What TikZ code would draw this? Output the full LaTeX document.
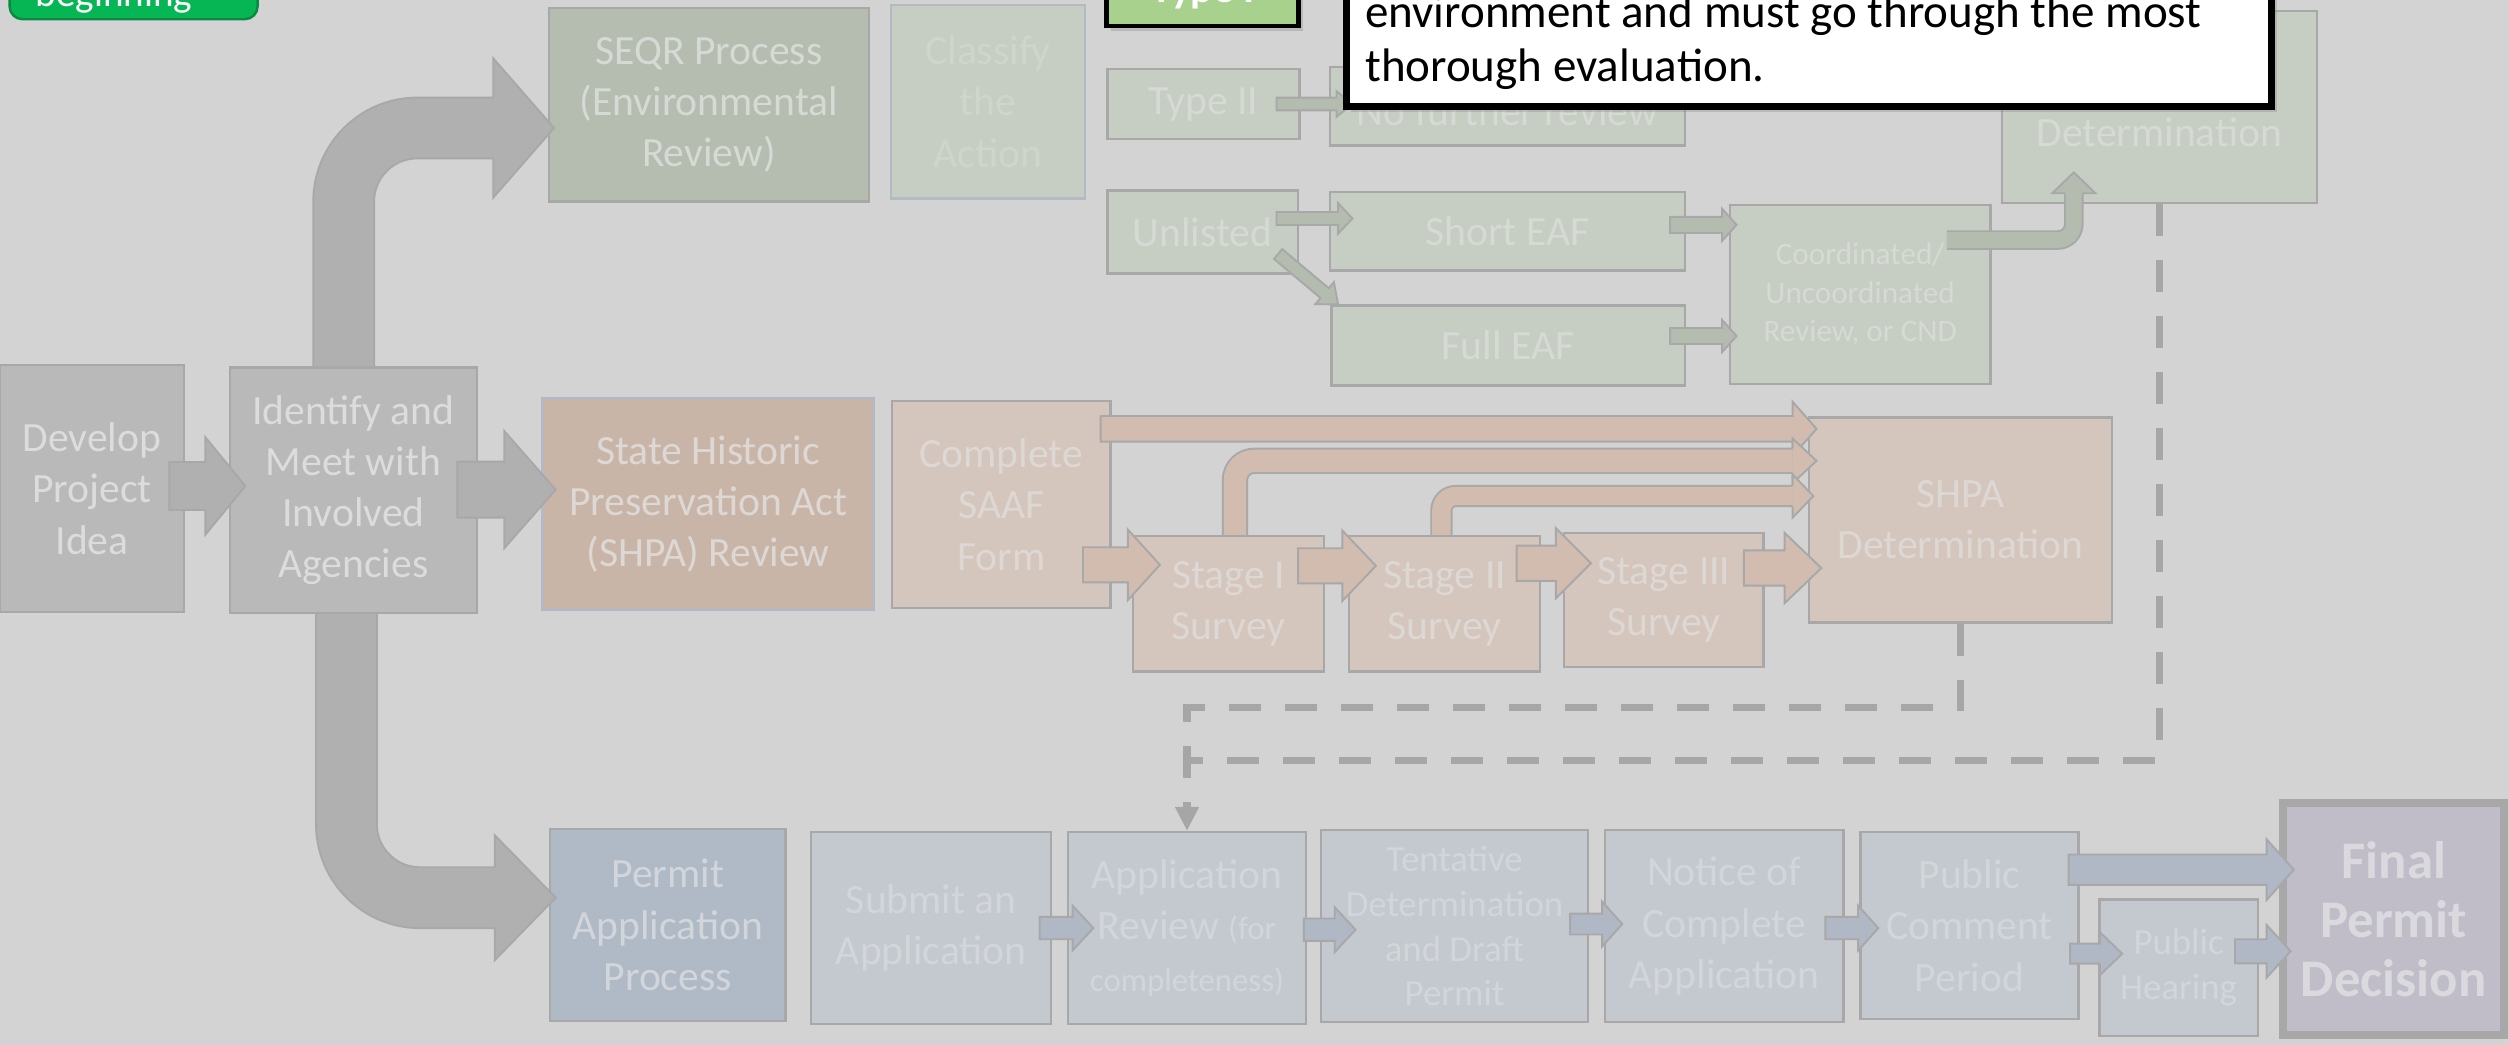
\documentclass[tikz,border=0pt]{standalone}
\usepackage{fontspec}
\setmainfont{Carlito}
\usetikzlibrary{calc,arrows.meta,shadows}

\definecolor{bg}{HTML}{D3D3D3}
\definecolor{boxline}{HTML}{A8A8A8}
\definecolor{blueline}{HTML}{B3BAC3}
\definecolor{grayfill}{HTML}{B9B9B9}
\definecolor{graytext}{HTML}{DCDCDC}
\definecolor{grayarrowfill}{HTML}{B0B0B0}
\definecolor{seqrfill}{HTML}{B5BDB1}
\definecolor{seqrlight}{HTML}{C6CEC3}
\definecolor{seqrtext}{HTML}{D6D9D4}
\definecolor{classifytext}{HTML}{CFD4CC}
\definecolor{seqrarrowfill}{HTML}{B4BCAF}
\definecolor{shpafill}{HTML}{C8B5A8}
\definecolor{shpalight}{HTML}{D4C6BD}
\definecolor{shpatext}{HTML}{DDD8D4}
\definecolor{shpaarrowfill}{HTML}{D1BCAF}
\definecolor{permfill}{HTML}{AFBAC6}
\definecolor{permlight}{HTML}{C4C9D0}
\definecolor{permtext}{HTML}{D2D6DB}
\definecolor{permarrowfill}{HTML}{B0B8C5}
\definecolor{finalfill}{HTML}{C0BDC8}
\definecolor{finaltext}{HTML}{DAD9DE}
\definecolor{dashgray}{HTML}{A6A6A6}
\definecolor{typeIfill}{HTML}{A9D18E}
\definecolor{btngreen}{HTML}{06B553}
\definecolor{btnline}{HTML}{0A8A40}

% straight block arrow: [style]{from}{to}{half shaft}{half head}{head length}
\newcommand\flowarrow[6][]{%
  \filldraw[#1] let \p1=#2, \p2=#3 in
    (\x1,\y1+#4) -- (\x2-#6,\y1+#4) -- (\x2-#6,\y1+#5) -- (\x2,\y1)
    -- (\x2-#6,\y1-#5) -- (\x2-#6,\y1-#4) -- (\x1,\y1-#4) -- cycle;}
\newcommand\slantarrow[6][]{%
  \filldraw[#1] let \p1=#2, \p2=#3, \n1={atan2(\y2-\y1,\x2-\x1)} in
    ($(\p1)+(\n1+90:#4)$) -- ($(\p2)+(\n1+180:#6)+(\n1+90:#4)$)
    -- ($(\p2)+(\n1+180:#6)+(\n1+90:#5)$) -- (\p2)
    -- ($(\p2)+(\n1+180:#6)+(\n1-90:#5)$) -- ($(\p2)+(\n1+180:#6)+(\n1-90:#4)$)
    -- ($(\p1)+(\n1-90:#4)$) -- cycle;}
% head of a bent arrow: [style]{tip}{angle}{half shaft}{half head}{length}
\newcommand\bendhead[6][]{%
  \filldraw[#1] let \p1=#2 in
    ($(\p1)+(#3+180:#6)+(#3+90:#4)$) -- ($(\p1)+(#3+180:#6)+(#3+90:#5)$) -- (\p1)
    -- ($(\p1)+(#3+180:#6)+(#3-90:#5)$) -- ($(\p1)+(#3+180:#6)+(#3-90:#4)$);}

\tikzset{
  wh/.style 2 args={minimum width=#1pt, minimum height=#2pt},
  box/.style={draw=boxline, line width=1.5pt, inner sep=0pt, align=center, font=\fontsize{26}{32}\selectfont},
  graybox/.style={box, fill=grayfill, text=graytext},
  seqrhead/.style={box, fill=seqrfill, text=seqrtext},
  seqrbox/.style={box, fill=seqrlight, text=seqrtext},
  shpahead/.style={box, fill=shpafill, text=shpatext, draw=blueline},
  shpabox/.style={box, fill=shpalight, text=shpatext},
  permhead/.style={box, fill=permfill, text=permtext},
  permbox/.style={box, fill=permlight, text=permtext},
  grayarrow/.style={fill=grayarrowfill, draw=boxline, line width=1.2pt},
  seqrarrow/.style={fill=seqrarrowfill, draw=boxline, line width=1.2pt},
  shpaarrow/.style={fill=shpaarrowfill, draw=boxline, line width=1.2pt},
  permarrow/.style={fill=permarrowfill, draw=boxline, line width=1.2pt},
  graybent/.style={draw=boxline, double=grayarrowfill, line width=1.2pt, rounded corners=46pt},
  seqrbent/.style={draw=boxline, double=seqrarrowfill, line width=1.2pt},
  shpabent/.style={draw=boxline, double=shpaarrowfill, line width=1.2pt},
  dashline/.style={draw=dashgray, line width=4.6pt, dash pattern=on 20pt off 15pt},
}

\begin{document}
\begin{tikzpicture}[x=1pt,y=-1pt]
\fill[bg] (0,0) rectangle (1568,653);
\useasboundingbox (0,0) rectangle (1568,653);
\clip (0,0) rectangle (1568,653);

\node[graybox, wh={115}{154.5}] (develop) at (57.5,305.3) {Develop\\Project\\Idea};
\node[graybox, wh={154.5}{153.5}] (identify) at (220.8,306.3) {Identify and\\Meet with\\Involved\\Agencies};

\node[seqrhead, wh={200}{121}] (seqr) at (443,65.5) {SEQR Process\\(Environmental\\Review)};
\node[seqrbox, draw=blueline, text=classifytext, wh={121}{121}] (classify) at (617.5,63.5) {Classify\\the\\Action};
\node[seqrbox, wh={120}{44}] (typeII) at (752,65) {Type II};
\node[seqrbox, wh={222}{49}] (nofurther) at (942,66.5) {\raisebox{-3pt}[\height][\depth]{No further review}};
\node[seqrbox, wh={119}{52}] (unlisted) at (751.5,145) {Unlisted};
\node[seqrbox, wh={222}{49}] (shorteaf) at (942,144.5) {Short EAF};
\node[seqrbox, wh={221}{50}] (fulleaf) at (942.5,216) {Full EAF};
\node[seqrbox, wh={163}{112}, font=\fontsize{19.5}{24}\selectfont] (coord) at (1162.5,184) {Coordinated/\\Uncoordinated\\Review, or CND};
\node[seqrbox, wh={197}{120}] (seqrdet) at (1349.5,67) {\vphantom{S}\\Determination};

\node[shpahead, wh={207}{132}] (shpa) at (442.5,315) {State Historic\\Preservation Act\\(SHPA) Review};
\node[shpabox, wh={136.5}{129.4}] (saaf) at (625.8,315.3) {Complete\\SAAF\\Form};
\node[shpabox, wh={119.5}{84.5}] (stageA) at (767.8,377.3) {Stage I\\Survey};
\node[shpabox, wh={119.5}{84.5}] (stageB) at (902.8,377.3) {Stage II\\Survey};
\node[shpabox, wh={124.5}{84}] (stageC) at (1039.8,375) {Stage III\\Survey};
\node[shpabox, wh={189.4}{128}] (shpadet) at (1225.3,325) {SHPA\\Determination};

\node[permhead, wh={147.4}{120}] (permit) at (417.3,578) {Permit\\Application\\Process};
\node[permbox, wh={150}{120}] (submit) at (582,580) {Submit an\\Application};
\node[permbox, wh={148.5}{120}] (review) at (741.8,580) {Application\\Review {\fontsize{20.5}{25}\selectfont(for}\\{\fontsize{20.5}{25}\selectfont completeness)}};
\node[permbox, wh={167}{120}, font=\fontsize{23}{28}\selectfont] (tentative) at (909,578.8) {Tentative\\Determination\\and Draft\\Permit};
\node[permbox, wh={149}{120}] (notice) at (1077.5,578.8) {Notice of\\Complete\\Application};
\node[permbox, wh={136.4}{117}] (comment) at (1230.8,578.5) {Public\\Comment\\Period};
\node[permbox, wh={99}{85.5}, font=\fontsize{23}{28}\selectfont] (hearing) at (1361.5,604.8) {Public\\Hearing};
\node[box, fill=finalfill, text=finaltext, line width=5pt, wh={138}{144.5}, font=\bfseries\fontsize{33}{37}\selectfont] (final) at (1496,574.3) {Final\\Permit\\Decision};

\coordinate (seqrturn) at ($(review.north)+(0,-44)$);
\coordinate (shpaturn) at ($(review.north)+(0,-77)$);
\draw[dashline] (seqrdet.south) |- (seqrturn);
\draw[dashline, -{Triangle[width=14pt,length=15pt]}] (shpadet.south) |- (shpaturn) -- (review.north);

\flowarrow[grayarrow]{($(develop.east)+(-10,-1.6)$)}{($(identify.west)+(10.5,0)$)}{15pt}{30.5pt}{25pt}
\flowarrow[grayarrow]{($(identify.east)+(-13,-0.3)$)}{($(shpa.west)+(9,0)$)}{17.5pt}{36.5pt}{32pt}
\draw[graybent, double distance=36.8pt] ($(identify.north)+(-6,0)$) |- ($(seqr.west)+(-34,14.5)$);
\bendhead[grayarrow]{($(seqr.west)+(4,14.5)$)}{0}{19pt}{43.5pt}{38pt}
\draw[graybent, double distance=36.8pt] ($(identify.south)+(-4.3,0)$) |- ($(permit.west)+(-33.6,-17)$);
\bendhead[grayarrow]{($(permit.west)+(4.4,-17)$)}{0}{19pt}{39pt}{38pt}

\flowarrow[seqrarrow]{($(typeII.east)+(-15,0)$)}{($(nofurther.west)+(15,0)$)}{4pt}{8pt}{10pt}
\flowarrow[seqrarrow]{($(unlisted.east)+(-14,-8.5)$)}{($(shorteaf.west)+(15,0)$)}{4pt}{9.5pt}{9pt}
\slantarrow[seqrarrow]{($(unlisted.south east)+(-13,-13)$)}{($(fulleaf.north west)+(5,0)$)}{4pt}{9pt}{11pt}
\flowarrow[seqrarrow]{($(shorteaf.east)+(-10,-4)$)}{($(coord.west)+(5,0)$)}{5pt}{10pt}{9pt}
\flowarrow[seqrarrow]{($(fulleaf.east)+(-10,-6)$)}{($(coord.west)+(5,0)$)}{5pt}{10pt}{9pt}
\draw[seqrbent, double distance=9.8pt, rounded corners=10pt] ($(coord.east)+(-28,-34)$) -| ($(seqrdet.south)+(-53.5,-7)$);
\bendhead[seqrarrow]{($(seqrdet.south)+(-53.5,-20)$)}{90}{5.5pt}{13.5pt}{13pt}

\flowarrow[shpaarrow]{($(saaf.east)+(-7,-47.3)$)}{($(shpadet.west)+(5.4,0)$)}{8pt}{17pt}{15pt}
\draw[shpabent, double distance=14pt, rounded corners=12pt] ($(stageA.north)+(4,0)$) |- ($(shpadet.west)+(-9.6,-37)$);
\bendhead[shpaarrow]{($(shpadet.west)+(5.4,-37)$)}{0}{7.75pt}{14pt}{15pt}
\draw[shpabent, double distance=11.5pt, rounded corners=9pt] ($(stageB.north)+(-2,0)$) |- ($(shpadet.west)+(-9.6,-15)$);
\bendhead[shpaarrow]{($(shpadet.west)+(3.4,-15)$)}{0}{6.5pt}{13.5pt}{13pt}
\flowarrow[shpaarrow]{($(saaf.east)+(-18,37.7)$)}{($(stageA.west)+(17.6,0)$)}{11pt}{22pt}{20pt}
\flowarrow[shpaarrow]{($(stageA.east)+(-17,-23.7)$)}{($(stageB.west)+(17.6,0)$)}{11pt}{22pt}{21pt}
\flowarrow[shpaarrow]{($(stageB.east)+(-15.5,-25.3)$)}{($(stageC.west)+(17.5,0)$)}{11pt}{22pt}{22pt}
\flowarrow[shpaarrow]{($(stageC.east)+(-13,-20)$)}{($(shpadet.west)+(8.4,0)$)}{11pt}{22pt}{23pt}

\flowarrow[permarrow]{($(submit.east)+(-8,0)$)}{($(review.west)+(16.5,0)$)}{7pt}{14pt}{13pt}
\flowarrow[permarrow]{($(review.east)+(-2,1)$)}{($(tentative.west)+(22.4,0)$)}{7pt}{14pt}{13pt}
\flowarrow[permarrow]{($(tentative.east)+(-12,-1.3)$)}{($(notice.west)+(11.6,0)$)}{6.5pt}{14pt}{12.6pt}
\flowarrow[permarrow]{($(notice.east)+(-12,1.2)$)}{($(comment.west)+(12,0)$)}{7pt}{14pt}{12.6pt}
\flowarrow[permarrow]{($(comment.east)+(-6,17.5)$)}{($(hearing.west)+(15,0)$)}{6.25pt}{13.5pt}{14pt}
\flowarrow[permarrow]{($(comment.east)+(-7,-35)$)}{($(final.west)+(9,0)$)}{9.5pt}{19pt}{17pt}
\flowarrow[permarrow]{($(hearing.east)+(-15,-10.3)$)}{($(final.west)+(7,0)$)}{7.5pt}{16.5pt}{15pt}

\draw[fill=btngreen, draw=btnline, line width=1.5pt, rounded corners=8pt] (6,-40) rectangle (161,12);
\node[anchor=base west, inner sep=0pt, text=white, font=\fontsize{24.5}{29}\selectfont] (begintext) at (22,4) {beginning};

\draw[fill=typeIfill, draw=black, line width=3pt, drop shadow={shadow xshift=3pt, shadow yshift=-3pt, opacity=0.3}] (691.5,-40) rectangle (811.5,16.2);
\node[anchor=base, inner sep=0pt, text=white, font=\bfseries\fontsize{26}{31}\selectfont] (typeI) at (752,1.5) {Type I};

\draw[fill=white, draw=black, line width=4.5pt, drop shadow={shadow xshift=3pt, shadow yshift=-3pt, opacity=0.3}] (841.3,-60) rectangle (1419.7,66.7);
\node[anchor=base west, inner sep=0pt, font=\fontsize{29.4}{34}\selectfont] (calloutA) at (853,17) {environment and must go through the most};
\node[anchor=base west, inner sep=0pt, font=\fontsize{29.4}{34}\selectfont] (calloutB) at (853,51) {thorough evaluation.};
\end{tikzpicture}
\end{document}
